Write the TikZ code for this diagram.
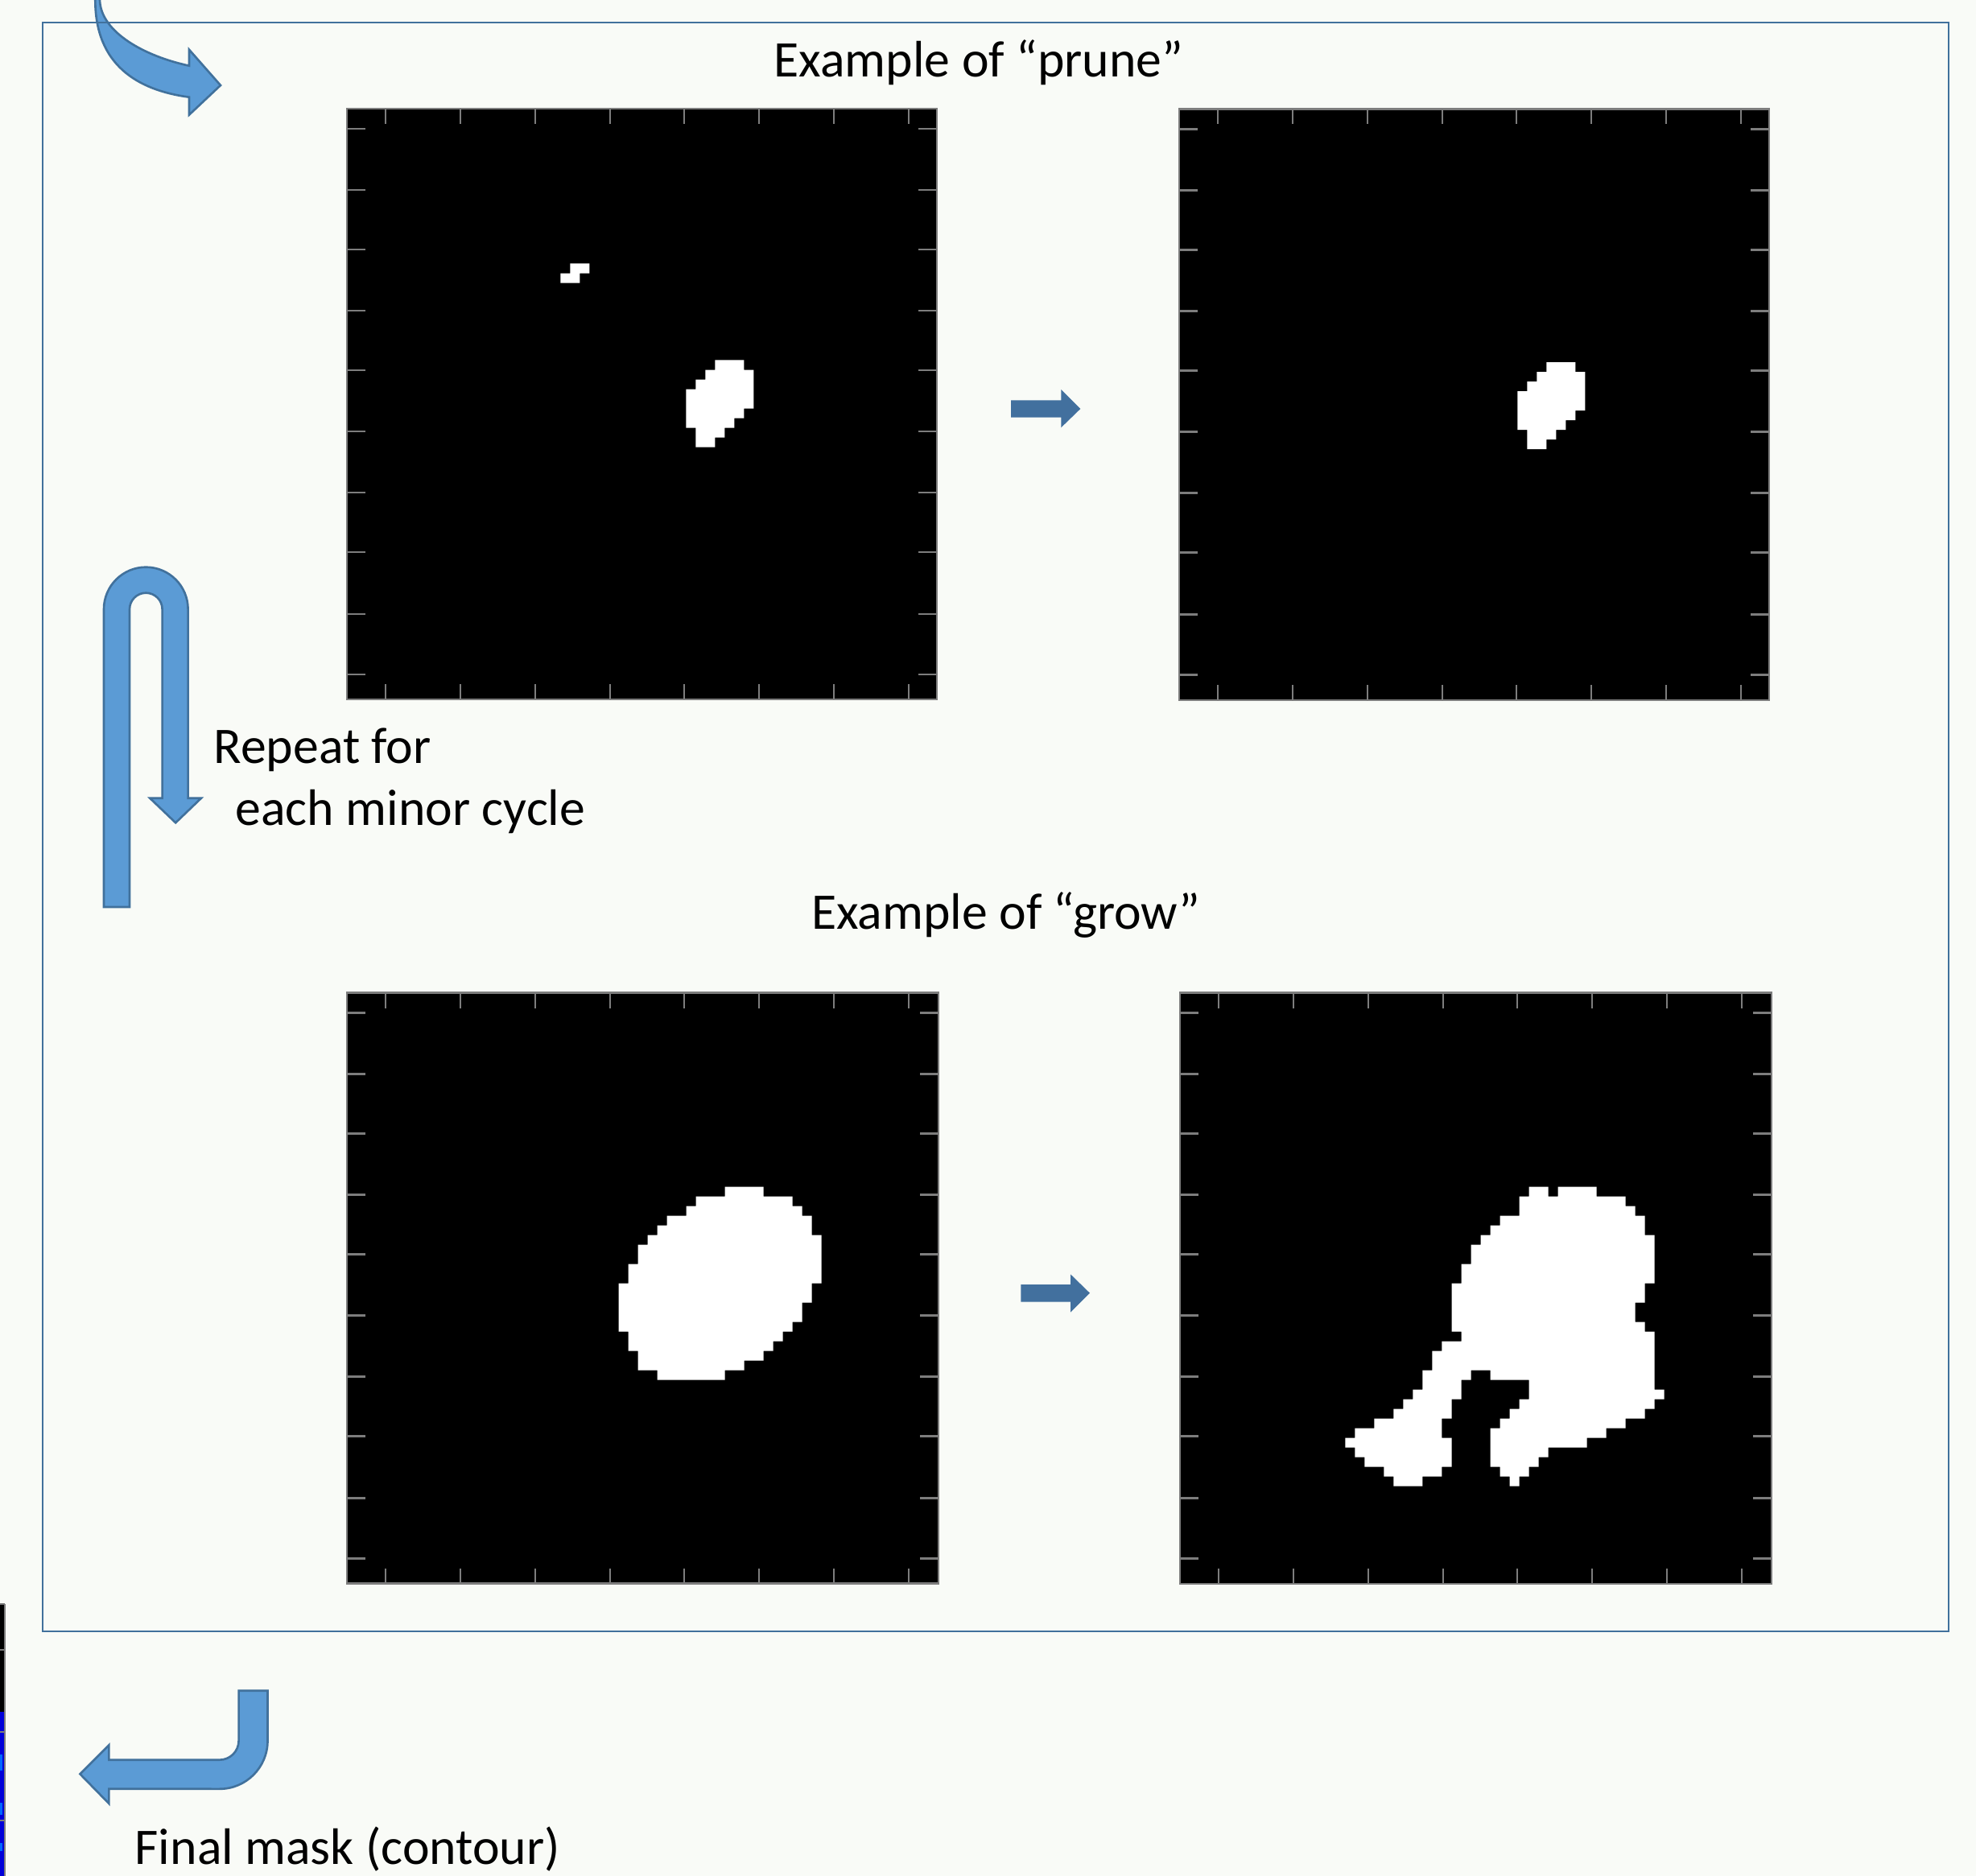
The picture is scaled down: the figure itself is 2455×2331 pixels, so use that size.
\documentclass[tikz,border=0pt]{standalone}
\usepackage{fontspec}
\setmainfont{Carlito}
\definecolor{bg}{RGB}{249,251,247}
\definecolor{frameblue}{RGB}{65,113,156}
\definecolor{arrowfill}{RGB}{91,155,213}
\definecolor{darkarrow}{RGB}{66,112,158}
\definecolor{tickgray}{RGB}{125,125,125}
\newcommand\mplot[4]{%
  \fill[black] (#1,#2) rectangle ++(#3,#4);
  \foreach \t in {48,141,234,327,419,512,605,698}{
    \draw[tickline] (#1+\t,#2) -- ++(0,19);
    \draw[tickline] (#1+\t,#2+#4) -- ++(0,-19);
  }
  \foreach \t in {25,101,175,251,325,401,477,551,628,703}{
    \draw[tickline] (#1,#2+\t) -- ++(23,0);
    \draw[tickline] (#1+#3,#2+\t) -- ++(-23,0);
  }
  \draw[tickline] (#1,#2) rectangle ++(#3,#4);
}
\begin{document}
\begin{tikzpicture}[x=0.01cm,y=-0.01cm,
  lbl/.style={inner sep=0pt, font=\fontsize{18.12}{21.5}\selectfont},
  blockarrow/.style={fill=arrowfill, draw=frameblue, line width=0.75pt, line join=miter},
  midarrow/.style={fill=darkarrow, draw=none},
  tickline/.style={draw=tickgray, line width=0.6pt},
  mask/.style={fill=white, draw=none}]
\useasboundingbox (0,0) rectangle (2455,2331);
\clip (0,0) rectangle (2455,2331);
\fill[bg] (0,0) rectangle (2455,2331);

% partial image at left edge
\fill[black] (0,1993) rectangle (6,2331);
\fill[blue!85!black] (0,2127) rectangle (5,2331);
\fill[blue!60!cyan] (0,2180) rectangle (3,2200);
\fill[blue!60!cyan] (0,2240) rectangle (3,2255);
\fill[blue!60!cyan] (0,2290) rectangle (3,2300);
\draw[tickline] (6,1993) -- (6,2331);
\draw[tickline] (0,1993) -- (6,1993);
\foreach \yy in {2050,2152,2262}{\draw[tickline] (0,\yy) -- (5,\yy);}

% top-left curved arrow
\draw[blockarrow] (118.3,-20) -- (118.3,0) .. controls (118.3,80) and (170,112) .. (235,120.7)
  -- (235,142.7) -- (274,106) -- (235,61.7) -- (235,81.7)
  .. controls (180,70) and (125,40) .. (124,0) -- (124,-20) -- cycle;

% frame
\draw[draw=frameblue, line width=0.75pt] (53,28) rectangle (2421,2027);

% plots
\mplot{431}{135}{733}{734}
\mplot{1465}{135.5}{733}{734.5}
\mplot{431}{1233.5}{735}{734}
\mplot{1466}{1233.5}{735}{734.5}

% prune: before
\begin{scope}[shift={(696.3,327.5)},x=0.12cm,y=-0.12cm]
  \fill[mask] (1,0)--(3,0)--(3,1)--(2,1)--(2,2)--(0,2)--(0,1)--(1,1)--cycle;
\end{scope}
\begin{scope}[shift={(852.3,447.5)},x=0.12cm,y=-0.12cm]
  \fill[mask] (3,0)--(6,0)--(6,1)--(7,1)--(7,5)--(6,5)--(6,6)--(5,6)--(5,7)--(4,7)--(4,8)--(3,8)--(3,9)--(1,9)--(1,7)--(0,7)--(0,3)--(1,3)--(1,2)--(2,2)--(2,1)--(3,1)--cycle;
\end{scope}
% prune: after
\begin{scope}[shift={(1885.3,450.1)},x=0.12cm,y=-0.12cm]
  \fill[mask] (3,0)--(6,0)--(6,1)--(7,1)--(7,5)--(6,5)--(6,6)--(5,6)--(5,7)--(4,7)--(4,8)--(3,8)--(3,9)--(1,9)--(1,7)--(0,7)--(0,3)--(1,3)--(1,2)--(2,2)--(2,1)--(3,1)--cycle;
\end{scope}
% grow: before
\begin{scope}[shift={(768.5,1474.5)},x=0.12cm,y=-0.12cm]
  \fill[mask] (11,0)--(15,0)--(15,1)--(18,1)--(18,2)--(19,2)--(19,3)--(20,3)--(20,5)--(21,5)--(21,10)--(20,10)--(20,12)--(19,12)--(19,14)--(18,14)--(18,15)--(17,15)--(17,16)--(16,16)--(16,17)--(15,17)--(15,18)--(13,18)--(13,19)--(11,19)--(11,20)--(4,20)--(4,19)--(2,19)--(2,17)--(1,17)--(1,15)--(0,15)--(0,10)--(1,10)--(1,8)--(2,8)--(2,6)--(3,6)--(3,5)--(4,5)--(4,4)--(5,4)--(5,3)--(7,3)--(7,2)--(8,2)--(8,1)--(11,1)--cycle;
\end{scope}
% grow: after
\begin{scope}[shift={(1671.4,1474.5)},x=0.12cm,y=-0.12cm]
  \fill[mask] (19,0)--(21,0)--(21,1)--(22,1)--(22,0)--(26,0)--(26,1)--(29,1)--(29,2)--(30,2)--(30,3)--(31,3)--(31,5)--(32,5)--(32,10)--(31,10)--(31,12)--(30,12)--(30,14)--(31,14)--(31,15)--(32,15)--(32,21)--(33,21)--(33,22)--(32,22)--(32,23)--(31,23)--(31,24)--(29,24)--(29,25)--(27,25)--(27,26)--(25,26)--(25,27)--(21,27)--(21,28)--(20,28)--(20,29)--(19,29)--(19,30)--(18,30)--(18,31)--(17,31)--(17,30)--(16,30)--(16,29)--(15,29)--(15,25)--(16,25)--(16,24)--(17,24)--(17,23)--(18,23)--(18,22)--(19,22)--(19,20)--(15,20)--(15,19)--(13,19)--(13,20)--(12,20)--(12,22)--(11,22)--(11,24)--(10,24)--(10,26)--(11,26)--(11,29)--(10,29)--(10,30)--(8,30)--(8,31)--(5,31)--(5,30)--(4,30)--(4,29)--(2,29)--(2,28)--(1,28)--(1,27)--(0,27)--(0,26)--(1,26)--(1,25)--(3,25)--(3,24)--(5,24)--(5,23)--(6,23)--(6,22)--(7,22)--(7,21)--(8,21)--(8,19)--(9,19)--(9,17)--(10,17)--(10,16)--(12,16)--(12,15)--(11,15)--(11,10)--(12,10)--(12,8)--(13,8)--(13,6)--(14,6)--(14,5)--(15,5)--(15,4)--(16,4)--(16,3)--(18,3)--(18,1)--(19,1)--cycle;
\end{scope}

% small arrows between plots
\fill[midarrow] (1256,497.3) -- (1318.3,497.3) -- (1318.3,484) -- (1342.3,508) -- (1318.3,531.3) -- (1318.3,518.7) -- (1256,518.7) -- cycle;
\fill[midarrow] (1268.3,1596) -- (1330,1596) -- (1330,1583.3) -- (1354,1606.7) -- (1330,1630.7) -- (1330,1617.7) -- (1268.3,1617.7) -- cycle;

% U-turn arrow
\draw[blockarrow] (129,1127) -- (129,757) arc[start angle=180, end angle=360, radius=52.3]
  -- (233.6,991.7) -- (250,991.7) -- (218.2,1022.3) -- (186.2,991.7) -- (201.6,991.7)
  -- (201.6,757) arc[start angle=0, end angle=-180, radius=20.3] -- (161,1127) -- cycle;

% bottom-left arrow
\draw[blockarrow] (296.6,2100.7) -- (332.5,2100.7) -- (332.5,2163)
  arc[start angle=0, end angle=90, radius=59.8]
  -- (135.4,2222.7) -- (135.4,2241) -- (99.5,2204.3) -- (135.4,2168.3) -- (135.4,2186.7)
  -- (272.7,2186.7) arc[start angle=90, end angle=0, radius=23.9] -- cycle;

% texts
\node[lbl, anchor=base] (tprune) at (1216,95.5) {Example of “prune”};
\node[lbl, anchor=base] (tgrow) at (1250,1154) {Example of “grow”};
\node[lbl, anchor=base west] (trep1) at (265,948.5) {Repeat for};
\node[lbl, anchor=base west] (trep2) at (292,1025) {each minor cycle};
\node[lbl, anchor=base west] (tfinal) at (167,2316) {Final mask (contour)};
\end{tikzpicture}
\end{document}
